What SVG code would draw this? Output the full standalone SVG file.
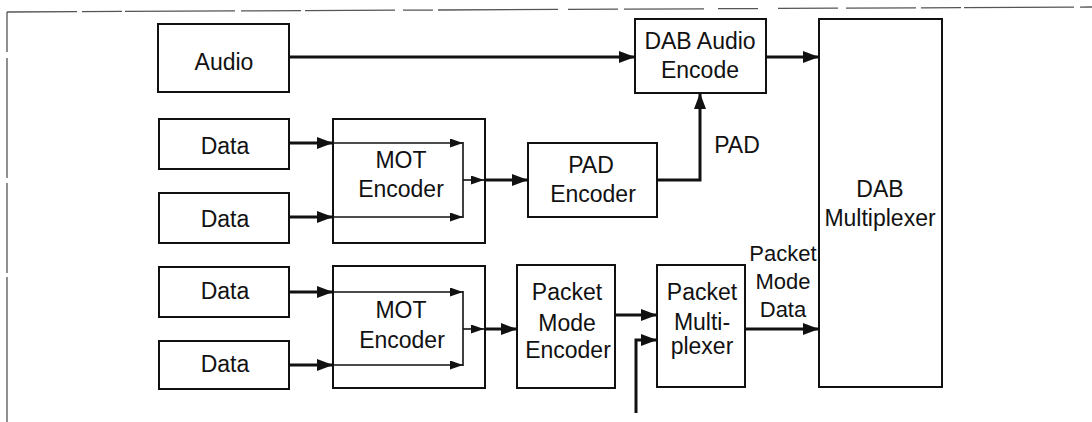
<svg xmlns="http://www.w3.org/2000/svg" width="1092" height="422" viewBox="0 0 1092 422">
<style>
.box{fill:#fff;stroke:#111;stroke-width:2}
.t{font-family:"Liberation Sans",Arial,sans-serif;font-size:23px;fill:#111;text-anchor:middle}
.thick{fill:none;stroke:#111;stroke-width:3}
.thin{fill:none;stroke:#111;stroke-width:1.6}
.frame{fill:none;stroke:#555;stroke-width:1.3}
</style>
<defs>
<marker id="ah" viewBox="0 0 16 12" markerWidth="16" markerHeight="12" refX="16" refY="6" orient="auto" markerUnits="userSpaceOnUse"><path d="M0,0 L16,6 L0,12 z" fill="#111"/></marker>
<marker id="ahs" viewBox="0 0 13 9" markerWidth="13" markerHeight="9" refX="13" refY="4.5" orient="auto" markerUnits="userSpaceOnUse"><path d="M0,0 L13,4.5 L0,9 z" fill="#111"/></marker>
</defs>
<g id="frame">
<path class="frame" d="M7,12 L1092,7" stroke-dasharray="70 5 40 3 110 6 60 4 90 8 30 5 120 10 50 6 80 14 40 20 60 8"/>
<path class="frame" d="M7,12 L7,422" stroke-dasharray="40 6 120 5 90 4 150 3"/>
</g>
<g id="audio"><rect class="box" x="158" y="24" width="131" height="68"/><text class="t" x="224" y="70">Audio</text></g>
<g id="dab-audio-encode"><rect class="box" x="635" y="19" width="131" height="74"/><text class="t" x="700" y="49">DAB Audio</text><text class="t" x="700" y="78">Encode</text></g>
<g id="dab-multiplexer"><rect class="box" x="819" y="19" width="123" height="368"/><text class="t" x="880" y="197">DAB</text><text class="t" x="880" y="226">Multiplexer</text></g>
<g id="data1"><rect class="box" x="159" y="119" width="130" height="50"/><text class="t" x="225" y="154">Data</text></g>
<g id="data2"><rect class="box" x="159" y="193" width="130" height="50"/><text class="t" x="225" y="227">Data</text></g>
<g id="mot-encoder-1"><rect class="box" x="333" y="119" width="152" height="124"/><text class="t" x="401" y="168">MOT</text><text class="t" x="401" y="197">Encoder</text></g>
<g id="pad-encoder"><rect class="box" x="528" y="143" width="129" height="74"/><text class="t" x="591" y="173">PAD</text><text class="t" x="593" y="202">Encoder</text></g>
<g id="data3"><rect class="box" x="159" y="267" width="130" height="50"/><text class="t" x="225" y="299">Data</text></g>
<g id="data4"><rect class="box" x="159" y="341" width="130" height="48"/><text class="t" x="225" y="372">Data</text></g>
<g id="mot-encoder-2"><rect class="box" x="333" y="266" width="152" height="122"/><text class="t" x="401" y="318">MOT</text><text class="t" x="402" y="348">Encoder</text></g>
<g id="packet-mode-encoder"><rect class="box" x="517" y="265" width="98" height="123"/><text class="t" x="567" y="300">Packet</text><text class="t" x="567" y="331">Mode</text><text class="t" x="568" y="358">Encoder</text></g>
<g id="packet-multiplexer"><rect class="box" x="657" y="265" width="88" height="122"/><text class="t" x="702" y="300">Packet</text><text class="t" x="702" y="330">Multi-</text><text class="t" x="702" y="354">plexer</text></g>
<g id="labels"><text class="t" x="737" y="153" text-anchor="middle">PAD</text><text class="t" x="783" y="261" style="font-size:22px">Packet</text><text class="t" x="783" y="289" style="font-size:22px">Mode</text><text class="t" x="783" y="317" style="font-size:22px">Data</text></g>
<g id="connectors">
<path class="thick" d="M289,57 L635,57" marker-end="url(#ah)"/>
<path class="thick" d="M766,57 L819,57" marker-end="url(#ah)"/>
<path class="thick" d="M289,143 L333,143" marker-end="url(#ah)"/>
<path class="thick" d="M289,217 L333,217" marker-end="url(#ah)"/>
<path class="thin" d="M333,143 L463,143" marker-end="url(#ahs)"/>
<path class="thin" d="M333,217 L463,217" marker-end="url(#ahs)"/>
<path class="thin" d="M463,142 L463,218"/>
<path class="thin" d="M463,180 L484,180" marker-end="url(#ahs)"/>
<path class="thick" d="M484,180 L528,180" marker-end="url(#ah)"/>
<path class="thick" d="M657,180 L700,180 L700,93" marker-end="url(#ah)"/>
<path class="thick" d="M289,292 L333,292" marker-end="url(#ah)"/>
<path class="thick" d="M289,365 L333,365" marker-end="url(#ah)"/>
<path class="thin" d="M333,292 L463,292" marker-end="url(#ahs)"/>
<path class="thin" d="M333,365 L463,365" marker-end="url(#ahs)"/>
<path class="thin" d="M463,291 L463,366"/>
<path class="thin" d="M463,329 L484,329" marker-end="url(#ahs)"/>
<path class="thick" d="M484,329 L517,329" marker-end="url(#ah)"/>
<path class="thick" d="M615,315 L657,315" marker-end="url(#ah)"/>
<path class="thick" d="M636,413 L636,340 L657,340" marker-end="url(#ah)"/>
<path class="thick" d="M745,329 L819,329" marker-end="url(#ah)"/>
</g>
</svg>
